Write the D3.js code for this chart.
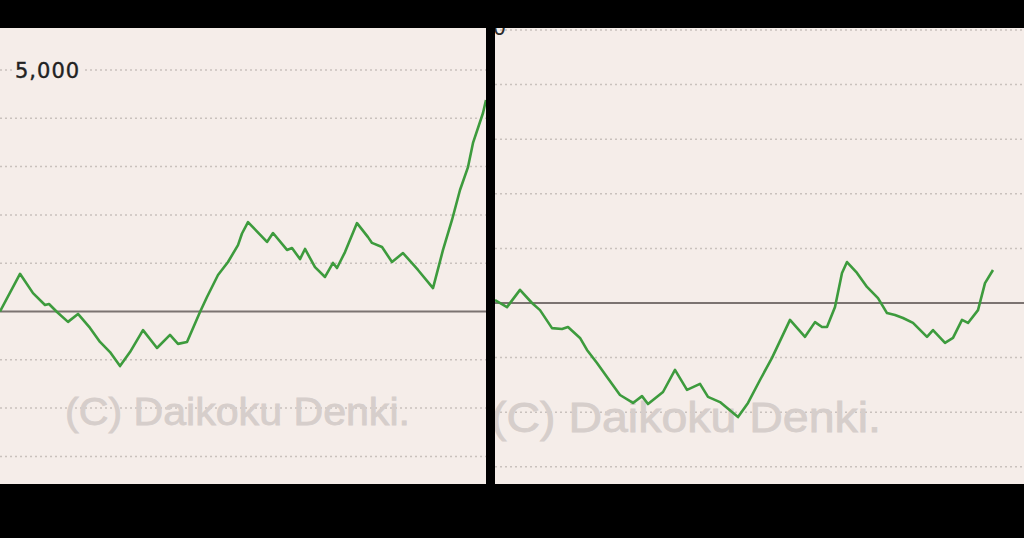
<!DOCTYPE html>
<html>
<head>
<meta charset="utf-8">
<script src="https://d3js.org/d3.v7.min.js"></script>
<style>
  body { margin: 0; background: #000; }
  svg text { font-family: "DejaVu Sans", sans-serif; }
</style>
</head>
<body>
<script>
// left graph: games played vs. ball difference
var leftGames = [0, 200, 330, 450, 490, 570, 680, 780, 900, 1000, 1100, 1200, 1300, 1430, 1570, 1700, 1780, 1870, 2000,
  2070, 2180, 2280, 2380, 2420, 2480, 2670, 2730, 2870, 2920, 3000, 3050, 3150, 3250, 3330, 3370, 3450, 3570,
  3680, 3720, 3820, 3920, 4030, 4180, 4330, 4430, 4520, 4600, 4680, 4730, 4830, 4860];
var leftDiff = [0, 780, 380, 135, 155, -10, -215, -50, -340, -630, -840, -1130, -840, -385, -755, -485, -670, -630, -10,
  300, 755, 1025, 1375, 1615, 1850, 1440, 1625, 1275, 1315, 1085, 1295, 920, 715, 1005, 900, 1230, 1830,
  1540, 1420, 1335, 1025, 1210, 860, 485, 1275, 1895, 2515, 2990, 3490, 4110, 4380];

// right graph
var rightGames = [0, 120, 250, 370, 450, 570, 670, 730, 850, 920, 1020, 1120, 1250, 1380, 1470, 1530, 1680, 1800,
  1920, 2050, 2130, 2250, 2430, 2530, 2650, 2770, 2950, 3100, 3200, 3270, 3320, 3400, 3470, 3520, 3620,
  3720, 3830, 3920, 4000, 4080, 4180, 4320, 4380, 4500, 4580, 4670, 4730, 4830, 4900, 4980];
var rightDiff = [55, -75, 240, 0, -130, -460, -475, -440, -640, -860, -1100, -1355, -1685, -1830, -1705, -1850, -1630, -1225,
  -1590, -1480, -1720, -1815, -2090, -1830, -1410, -1005, -310, -620, -350, -440, -440, -75, 550, 750, 550,
  295, 90, -185, -220, -275, -365, -620, -495, -730, -640, -310, -365, -130, 365, 605];

var gridValues = [-3000, -2000, -1000, 1000, 2000, 3000, 4000, 5000];
var labelValue = 5000;
var watermark = "(C) Daikoku Denki.";

var W = 1024, H = 538;
var bg = "#f5ede9";

var svg = d3.select("body").append("svg")
  .attr("width", W).attr("height", H);

svg.append("rect").attr("width", W).attr("height", H).attr("fill", "#000");

function panel(id, x0, x1, y0, y1, games, diff, xMax, yZero, y5000, wm) {
  var xs = d3.scaleLinear().domain([0, xMax]).range([x0, x1]);
  var ys = d3.scaleLinear().domain([0, 5000]).range([yZero, y5000]);

  svg.append("clipPath").attr("id", id)
    .append("rect").attr("x", x0).attr("y", y0).attr("width", x1 - x0).attr("height", y1 - y0);

  var g = svg.append("g").attr("clip-path", "url(#" + id + ")");

  g.append("rect").attr("x", x0).attr("y", y0).attr("width", x1 - x0).attr("height", y1 - y0)
    .attr("fill", bg);

  g.selectAll(".grid").data(gridValues).enter().append("line")
    .attr("x1", x0).attr("x2", x1)
    .attr("y1", function(d) { return ys(d); })
    .attr("y2", function(d) { return ys(d); })
    .attr("stroke", "#c9c1bd")
    .attr("stroke-width", 1.5)
    .attr("stroke-dasharray", "2,3");

  g.append("text")
    .attr("x", wm.x).attr("y", wm.y)
    .attr("textLength", wm.len)
    .attr("lengthAdjust", "spacingAndGlyphs")
    .style("font-family", "'Liberation Sans', Arial, sans-serif")
    .style("font-weight", "normal")
    .style("font-size", wm.size + "px")
    .style("stroke", "#d6cecb")
    .style("stroke-width", 0.8)
    .attr("fill", "#d6cecb")
    .text(watermark);

  g.append("line")
    .attr("x1", x0).attr("x2", x1)
    .attr("y1", ys(0)).attr("y2", ys(0))
    .attr("stroke", "#7b7371")
    .attr("stroke-width", 2);

  var line = d3.line()
    .x(function(d, i) { return xs(games[i]); })
    .y(function(d) { return ys(d); });

  g.append("path")
    .datum(diff)
    .attr("d", line)
    .attr("fill", "none")
    .attr("stroke", "#3d9b3d")
    .attr("stroke-width", 2.6)
    .attr("stroke-linejoin", "round");

  return { g: g, xs: xs, ys: ys };
}

var left = panel("clipL", 0, 486, 28, 484, leftGames, leftDiff, 4860, 311.5, 70,
  { x: 65, y: 425, len: 345, size: 38 });
var right = panel("clipR", 495, 1024, 28, 484, rightGames, rightDiff, 5290, 303, 30,
  { x: 491, y: 432, len: 390, size: 42 });

// y label on the left graph
var lbl = left.g.append("g");
lbl.append("rect")
  .attr("x", 12).attr("y", left.ys(labelValue) - 11)
  .attr("width", 72).attr("height", 22)
  .attr("fill", bg);
lbl.append("text")
  .attr("x", 15).attr("y", left.ys(labelValue) + 8)
  .style("font-size", "21px")
  .style("letter-spacing", "1px")
  .style("stroke", "#222")
  .style("stroke-width", 0.4)
  .attr("fill", "#222")
  .text(d3.format(",")(labelValue));

// cut-off label on the right graph
right.g.append("text")
  .attr("x", 506).attr("y", right.ys(labelValue) + 5)
  .attr("text-anchor", "end")
  .style("font-size", "21px")
  .attr("fill", "#2b2b2b")
  .text(d3.format(",")(labelValue));
</script>
</body>
</html>
